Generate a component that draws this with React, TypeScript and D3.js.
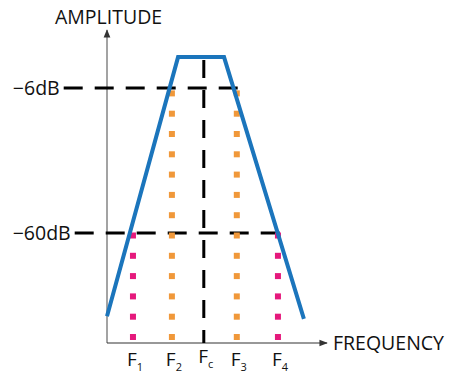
import React from 'react';
import * as d3 from 'd3';

// frequency units (0..100 along the axis), amplitude in dB
const filterShape: [number, number][] = [
  [0, -91],
  [32.3, 5.5],
  [53.2, 5.5],
  [89.5, -92],
];
const levels = [
  { label: '−6dB', db: -6, start: -21.5, end: 63 },
  { label: '−60dB', db: -60, start: -16.5, end: 81 },
];
const freqMarks = [
  { name: 'F', sub: '1', f: 11.8, top: -59, color: '#e5197c', kind: 'dot' },
  { name: 'F', sub: '2', f: 29.5, top: -5, color: '#f0983a', kind: 'dot' },
  { name: 'F', sub: 'c', f: 44, top: 5.5, color: '#000', kind: 'dash' },
  { name: 'F', sub: '3', f: 59, top: -5, color: '#f0983a', kind: 'dot' },
  { name: 'F', sub: '4', f: 77.7, top: -59, color: '#e5197c', kind: 'dot' },
];

const W = 449;
const H = 376;
const font = '"Open Sans", "Noto Sans", sans-serif';

export default function App() {
  const x = d3.scaleLinear().domain([0, 100]).range([107, 327]);
  const y = d3.scaleLinear().domain([-101, 15.6]).range([343, 30]);
  const line = d3.line<[number, number]>()
    .x(d => x(d[0]))
    .y(d => y(d[1]));

  const x0 = x(0);
  const y0 = y(-101);

  return (
    <svg width={W} height={H} style={{ position: 'absolute', left: 0, top: 0, background: '#fff' }}>
      <defs>
        <marker id="arr" viewBox="0 0 10 10" refX="9" refY="5" markerWidth="7" markerHeight="7" orient="auto">
          <path d="M0,1 L10,5 L0,9 z" fill="#333" />
        </marker>
      </defs>

      {/* axes */}
      <line x1={x0} y1={y0} x2={x0} y2={y(15.6)} stroke="#666" strokeWidth={1.2} markerEnd="url(#arr)" />
      <line x1={x0} y1={y0} x2={x(100)} y2={y0} stroke="#333" strokeWidth={1.2} markerEnd="url(#arr)" />
      <text x={55} y={24} fontFamily={font} fontSize={19.5} fill="#111">AMPLITUDE</text>
      <text x={333} y={350} fontFamily={font} fontSize={19.5} fill="#111">FREQUENCY</text>

      {/* dB reference lines */}
      {levels.map(l => (
        <g key={l.label}>
          <line x1={x(l.start) + 4} x2={x(l.end)} y1={y(l.db)} y2={y(l.db)}
            stroke="#000" strokeWidth={3} strokeDasharray="19 12" />
          <text x={x(l.start)} y={y(l.db)} dy="0.35em" textAnchor="end" fontFamily={font} fontSize={19.5} fill="#111">{l.label}</text>
        </g>
      ))}

      {/* frequency markers */}
      {freqMarks.map(m => {
        const xp = x(m.f);
        if (m.kind === 'dash') {
          return (
            <line key={m.sub} x1={xp} x2={xp} y1={y(m.top) + 3} y2={y0}
              stroke="#000" strokeWidth={3} strokeDasharray="18 12" />
          );
        }
        const dots = d3.range(y0 - 6, y(m.top), -20.3);
        return (
          <g key={m.sub}>
            {dots.map((d, i) => (
              <rect key={i} x={xp - 3} y={d - 3} width={6} height={6} fill={m.color} />
            ))}
          </g>
        );
      })}

      {/* filter response */}
      <path d={line(filterShape) || ''} fill="none" stroke="#1b75bc" strokeWidth={4} strokeLinejoin="miter" />

      {/* frequency labels */}
      {freqMarks.map(m => (
        <text key={'t' + m.sub} x={x(m.f) + 2} y={m.kind === 'dash' ? 363 : 366} textAnchor="middle" fontFamily={font} fontSize={19} fill="#111">
          {m.name}
          <tspan fontSize={11} dy={5}>{m.sub}</tspan>
        </text>
      ))}
    </svg>
  );
}
